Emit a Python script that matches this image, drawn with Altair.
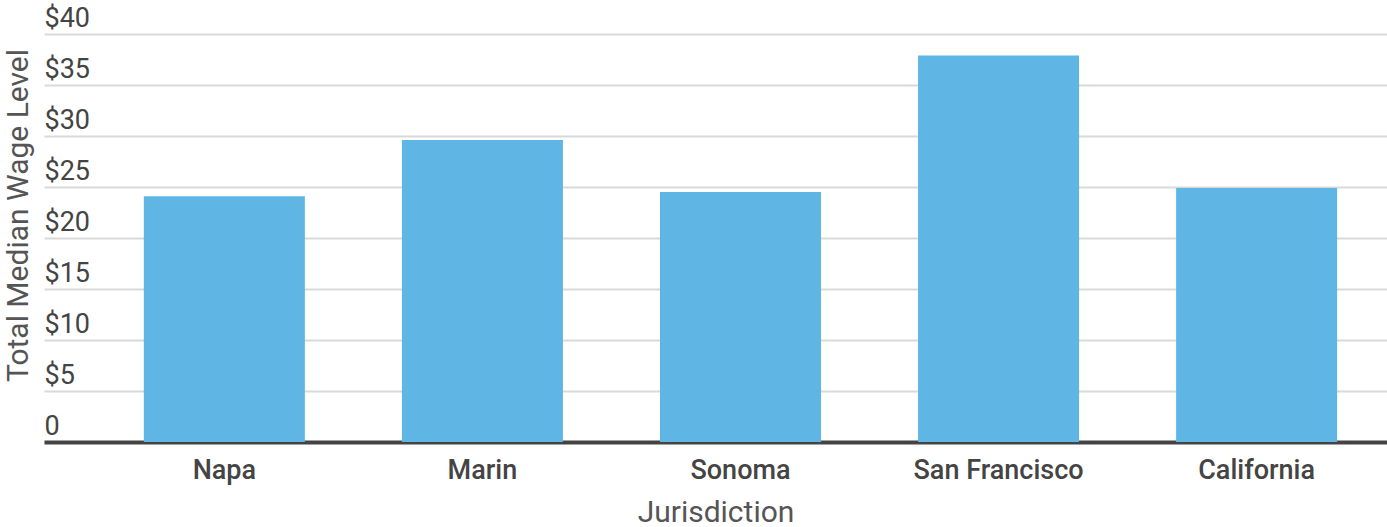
import altair as alt
import pandas as pd

jurisdictions = ["Napa", "Marin", "Sonoma", "San Francisco", "California"]
wages = [24.1, 29.6, 24.5, 37.9, 24.9]
y_ticks = [0, 5, 10, 15, 20, 25, 30, 35, 40]

df = pd.DataFrame({"Jurisdiction": jurisdictions, "Wage": wages})

label_expr = "datum.value == 0 ? '0' : '$' + datum.value"

chart = alt.Chart(df).mark_bar(color="#5fb6e4").encode(
    x=alt.X(
        "Jurisdiction:N",
        sort=jurisdictions,
        title="Jurisdiction",
        scale=alt.Scale(paddingInner=0.376, paddingOuter=0.29, align=0.667),
        axis=alt.Axis(
            labelAngle=0,
            labelFont="Roboto",
            labelFontSize=27,
            labelFontWeight=500,
            labelColor="#444444",
            labelPadding=15,
            ticks=False,
            domainColor="#444444",
            domainWidth=4,
            titleFont="Roboto",
            titleFontSize=30,
            titleFontWeight="normal",
            titleColor="#555555",
            titleBaseline="alphabetic",
            titleY=79,
        ),
    ),
    y=alt.Y(
        "Wage:Q",
        title="Total Median Wage Level",
        scale=alt.Scale(domain=[0, 40], nice=False),
        axis=alt.Axis(
            values=y_ticks,
            labelExpr=label_expr,
            labelAlign="left",
            labelBaseline="alphabetic",
            labelOffset=-8,
            labelPadding=0,
            labelFlush=False,
            ticks=False,
            tickSize=0,
            domain=False,
            labelFont="Roboto",
            labelFontSize=27,
            labelColor="#444444",
            gridColor="#d9d9d9",
            gridWidth=2,
            titleFont="Roboto",
            titleFontSize=30,
            titleFontWeight="normal",
            titleColor="#555555",
            titleX=-17,
            titleY=181,
            titleAlign="center",
            titleBaseline="alphabetic",
        ),
    ),
).properties(
    width=1343,
    height=408,
    autosize=alt.AutoSizeParams(type="none"),
    padding={"left": 44, "top": 34, "right": 0, "bottom": 85},
).configure_view(stroke=None)

chart.save("out.html", embed_options={"renderer": "svg", "actions": False})
